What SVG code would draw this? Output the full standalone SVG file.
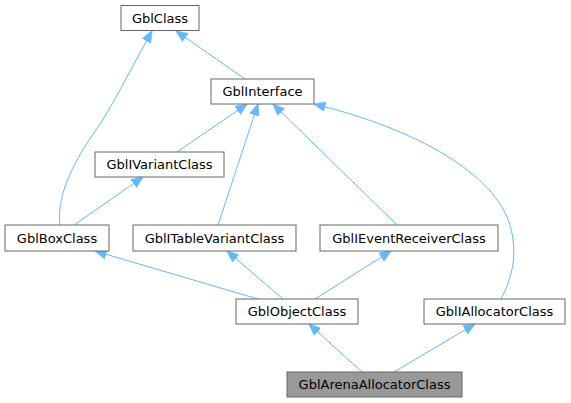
<svg xmlns="http://www.w3.org/2000/svg" width="571" height="403" viewBox="0 0 571 403">
<style>
.n rect{fill:#ffffff;stroke:#666666;stroke-width:1}
.n.h rect{fill:#999999}
.n text{font-family:"DejaVu Sans",sans-serif;font-size:13px;fill:#000000;text-anchor:middle}
.e path{fill:none;stroke:#63b8ff;stroke-width:1;marker-end:url(#a)}
</style>
<defs>
<marker id="a" markerUnits="userSpaceOnUse" markerWidth="12" markerHeight="10" viewBox="0 0 12 10" refX="11.5" refY="5" orient="auto">
<path d="M0,0 L12,5 L0,10 Z" fill="#63b8ff" stroke="#63b8ff" stroke-width="0.5"/>
</marker>
</defs>
<rect width="571" height="403" fill="#ffffff"/>
<g class="e">
<path d="M245,79 L176,31"/>
<path d="M60,225 C56,195 75,160 94,133 S130,70 152,31"/>
<path d="M177,152 L247,104"/>
<path d="M218,225 L258,104"/>
<path d="M397,225 L273,104"/>
<path d="M501,299 C508,285 520,260 510,225 C495,175 420,130 314,104"/>
<path d="M74,225 L143,177"/>
<path d="M258,299 L95,251"/>
<path d="M283,299 L227,251"/>
<path d="M315,299 L391,251"/>
<path d="M362,372 L309,324"/>
<path d="M394,372 L475,324"/>
</g>
<g id="GblClass" class="n"><rect x="121" y="5.5" width="78" height="25"/><text x="160" y="22.5">GblClass</text></g>
<g id="GblInterface" class="n"><rect x="211" y="79" width="103" height="25"/><text x="262.5" y="96">GblInterface</text></g>
<g id="GblIVariantClass" class="n"><rect x="95" y="152" width="129" height="25"/><text x="159.5" y="169">GblIVariantClass</text></g>
<g id="GblBoxClass" class="n"><rect x="5" y="225" width="104" height="26"/><text x="57" y="242.5">GblBoxClass</text></g>
<g id="GblITableVariantClass" class="n"><rect x="133" y="225" width="163" height="26"/><text x="214.5" y="242.5">GblITableVariantClass</text></g>
<g id="GblIEventReceiverClass" class="n"><rect x="320" y="225" width="178" height="26"/><text x="409" y="242.5">GblIEventReceiverClass</text></g>
<g id="GblObjectClass" class="n"><rect x="236" y="299" width="122" height="25"/><text x="297" y="316">GblObjectClass</text></g>
<g id="GblIAllocatorClass" class="n"><rect x="424" y="299" width="141" height="25"/><text x="494.5" y="316">GblIAllocatorClass</text></g>
<g id="GblArenaAllocatorClass" class="n h"><rect x="287" y="372" width="175" height="25"/><text x="374.5" y="389">GblArenaAllocatorClass</text></g>
</svg>
